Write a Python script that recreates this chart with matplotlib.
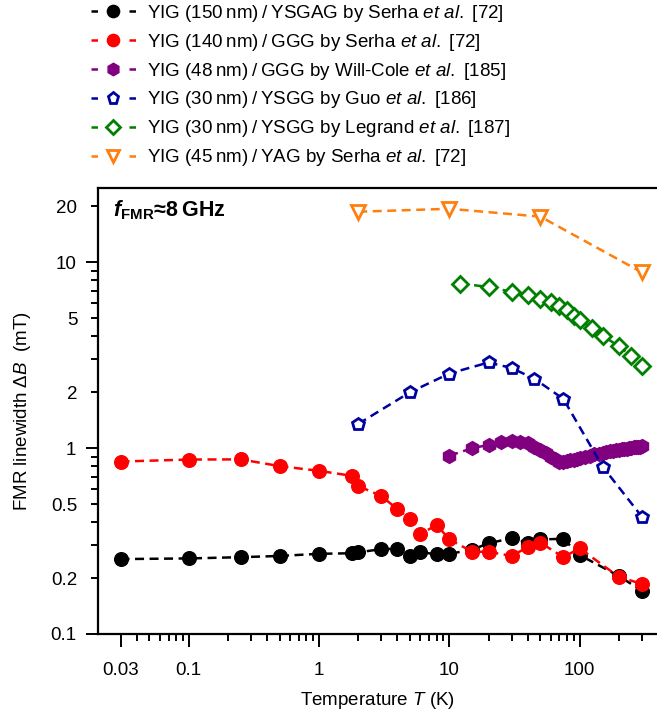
import matplotlib
matplotlib.use("Agg")
import matplotlib.pyplot as plt
from matplotlib.ticker import FixedLocator, FixedFormatter, NullFormatter
from matplotlib.lines import Line2D

plt.rcParams['font.family'] = ['Liberation Sans', 'DejaVu Sans']
plt.rcParams['mathtext.fontset'] = 'custom'
plt.rcParams['mathtext.rm'] = 'Liberation Sans'
plt.rcParams['mathtext.it'] = 'Liberation Sans:italic'
plt.rcParams['mathtext.bf'] = 'Liberation Sans:bold'
plt.rcParams['mathtext.bfit'] = 'Liberation Sans:bold:italic'

# ---------------- data ----------------
T_black = [0.03, 0.1, 0.25, 0.5, 1, 1.8, 2, 3, 4, 5, 6, 8, 10, 15, 20, 30, 40, 50, 75, 100, 200, 300]
dB_black = [0.253, 0.255, 0.259, 0.263, 0.270, 0.272, 0.275, 0.286, 0.288, 0.263, 0.276, 0.268,
            0.270, 0.284, 0.308, 0.327, 0.310, 0.323, 0.325, 0.266, 0.205, 0.171]

T_red = [0.03, 0.1, 0.25, 0.5, 1, 1.8, 2, 3, 4, 5, 6, 8, 10, 15, 20, 30, 40, 50, 75, 100, 200, 300]
dB_red = [0.847, 0.868, 0.870, 0.800, 0.755, 0.709, 0.626, 0.553, 0.469, 0.417, 0.345, 0.386,
          0.323, 0.277, 0.277, 0.263, 0.293, 0.310, 0.259, 0.289, 0.203, 0.186]

T_purple = [10, 15, 20, 25, 30, 35, 40, 45, 50, 55, 60, 65, 70, 75, 80, 85, 90, 95, 100,
            110, 120, 130, 140, 150, 160, 170, 180, 190, 200, 210, 220, 230, 240, 250,
            260, 270, 280, 290, 300]
dB_purple = [0.91, 1.00, 1.04, 1.075, 1.095, 1.085, 1.06, 1.02, 0.98, 0.94, 0.90, 0.87, 0.845,
             0.84, 0.85, 0.86, 0.865, 0.875, 0.885, 0.90, 0.91, 0.925, 0.935, 0.945, 0.955,
             0.96, 0.97, 0.975, 0.98, 0.985, 0.99, 0.995, 1.0, 1.005, 1.01, 1.015, 1.02,
             1.02, 1.025]

T_blue = [2, 5, 10, 20, 30, 45, 75, 150, 300]
dB_blue = [1.35, 2.0, 2.52, 2.89, 2.70, 2.36, 1.84, 0.796, 0.428]

T_green = [12, 20, 30, 40, 50, 60, 70, 80, 90, 100, 125, 150, 200, 250, 300]
dB_green = [7.68, 7.37, 6.93, 6.70, 6.37, 6.09, 5.80, 5.51, 5.16, 4.87, 4.43, 4.03, 3.53, 3.12, 2.78]

T_orange = [2, 10, 50, 300]
dB_orange = [18.7, 19.4, 17.6, 8.83]

labels = [
    "YIG (150\u2009nm)\u2009/\u2009YSGAG by Serha $\\mathit{et\\ al.}$ [72]",
    "YIG (140\u2009nm)\u2009/\u2009GGG by Serha $\\mathit{et\\ al.}$ [72]",
    "YIG (48\u2009nm)\u2009/\u2009GGG by Will-Cole $\\mathit{et\\ al.}$ [185]",
    "YIG (30\u2009nm)\u2009/\u2009YSGG by Guo $\\mathit{et\\ al.}$ [186]",
    "YIG (30\u2009nm)\u2009/\u2009YSGG by Legrand $\\mathit{et\\ al.}$ [187]",
    "YIG (45\u2009nm)\u2009/\u2009YAG by Serha $\\mathit{et\\ al.}$ [72]",
]

x_major = [0.03, 0.1, 1, 10, 100]
x_major_labels = ["0.03", "0.1", "1", "10", "100"]
y_major = [0.1, 1, 10]
y_major_labels = ["0.1", "1", "10"]
y_minor = [0.2, 0.3, 0.4, 0.5, 0.6, 0.7, 0.8, 0.9, 2, 3, 4, 5, 6, 7, 8, 9, 20]
y_minor_labels = ["0.2", "", "", "0.5", "", "", "", "", "2", "", "", "5", "", "", "", "", "20"]

# ---------------- figure ----------------
fig = plt.figure(figsize=(6.57, 7.17), dpi=100)
ax = fig.add_axes([97.6/657, 83/717, 560.5/657, 445.7/717])
ax.set_xscale('log')
ax.set_yscale('log')

lw = 1.8
dash = (3.6, 2.2)
series = [
    (T_black, dB_black, 'black', 'o', 9.8, True, 1.0),
    (T_red, dB_red, '#ff0000', 'o', 9.8, True, 1.0),
    (T_purple, dB_purple, '#800080', 'h', 10, True, 1.0),
    (T_blue, dB_blue, '#0000a0', 'p', 9.2, False, 2.0),
    (T_green, dB_green, '#008000', 'D', 8, False, 2.0),
    (T_orange, dB_orange, '#ff7f0e', 'v', 9.5, False, 2.0),
]
handles = []
for (x, y, c, m, ms, filled, mew), lab in zip(series, labels):
    ax.plot(x, y, color=c, lw=lw, linestyle=(0, dash), marker=m, markersize=ms,
            markerfacecolor=c if filled else 'white', markeredgecolor=c,
            markeredgewidth=mew, label=lab)
    handles.append(Line2D([], [], color=c, lw=lw, linestyle=(0, (2.6, 12.6)), marker=m,
                          markersize=ms * 0.9, markerfacecolor=c if filled else 'white',
                          markeredgecolor=c, markeredgewidth=mew))

ax.set_xlim(0.02, 400)
ax.set_ylim(0.1, 25)

ax.xaxis.set_major_locator(FixedLocator(x_major))
ax.xaxis.set_major_formatter(FixedFormatter(x_major_labels))
x_minor = [k * 10.0**e for e in range(-2, 3) for k in range(2, 10)]
x_minor = [v for v in x_minor if 0.02 < v < 400 and abs(v - 0.03) > 1e-9]
ax.xaxis.set_minor_locator(FixedLocator(x_minor))
ax.xaxis.set_minor_formatter(NullFormatter())

ax.yaxis.set_major_locator(FixedLocator(y_major))
ax.yaxis.set_major_formatter(FixedFormatter(y_major_labels))
ax.yaxis.set_minor_locator(FixedLocator(y_minor))
ax.yaxis.set_minor_formatter(FixedFormatter(y_minor_labels))

for s in ['left', 'bottom', 'top']:
    ax.spines[s].set_linewidth(1.6)
ax.spines['right'].set_visible(False)

ax.tick_params(which='major', direction='out', length=9, width=1.4, labelsize=13.5)
ax.tick_params(which='minor', direction='out', length=5, width=1.4, labelsize=13.5)
ax.tick_params(axis='y', which='major', pad=6.5)
ax.tick_params(axis='y', which='minor', pad=9.5)
ax.tick_params(axis='x', which='major', pad=11)

ax.set_xlabel("Temperature $\\mathit{T}$ (K)", fontsize=13.5, labelpad=8)
ax.set_ylabel("FMR linewidth $\\mathit{\\Delta B}$  (mT)", fontsize=13.5, labelpad=12)

ax.text(0.027, 0.951, "$\\mathbfit{f}_{\\mathbf{FMR}}$\u22488\u2009GHz", transform=ax.transAxes,
        fontsize=15.5, fontweight='bold', va='center', ha='left')

fig.legend(handles=handles, labels=labels, loc='upper left', bbox_to_anchor=(88/657, 1.0),
           frameon=False, fontsize=13.5, handlelength=2.4, handletextpad=0.6,
           labelspacing=0.42, borderaxespad=0.0, borderpad=0.15)

fig.savefig("out.png", dpi=100)
